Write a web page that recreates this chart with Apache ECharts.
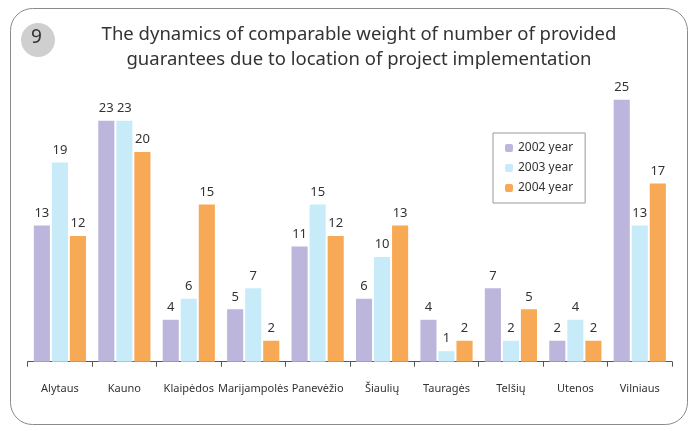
<!DOCTYPE html>
<html>
<head>
<meta charset="utf-8">
<script src="https://cdn.jsdelivr.net/npm/echarts@6/dist/echarts.min.js"></script>
<style>
  html, body { margin: 0; padding: 0; background: #fff; }
</style>
</head>
<body>
<div id="main" style="width: 690px;height:431px;"></div>
<script type="text/javascript">
  var regions = ['Alytaus', 'Kauno', 'Klaipėdos', 'Marijampolės', 'Panevėžio', 'Šiaulių', 'Tauragės', 'Telšių', 'Utenos', 'Vilniaus'];
  var y2002 = [13, 23, 4, 5, 11, 6, 4, 7, 2, 25];
  var y2003 = [19, 23, 6, 7, 15, 10, 1, 2, 4, 13];
  var y2004 = [12, 20, 15, 2, 12, 13, 2, 5, 2, 17];
  var seriesNames = ['2002 year', '2003 year', '2004 year'];
  var colors = ['#bcb6dc', '#c8ebfa', '#f8a955'];

  var myChart = echarts.init(document.getElementById('main'));
  var font = '"Noto Sans", sans-serif';

  // 数据标签
  var label = {
    show: true,
    position: 'top',
    distance: 6,
    color: '#333',
    fontSize: 13,
    fontFamily: font
  };

  var option = {
    animation: false,
    textStyle: { fontFamily: font },
    graphic: [
      {
        type: 'rect',
        shape: { x: 10.5, y: 8.5, width: 677, height: 416, r: 22 },
        style: { fill: 'none', stroke: '#8a8a8a', lineWidth: 1 }
      },
      {
        type: 'circle',
        shape: { cx: 38, cy: 40, r: 17 },
        style: { fill: '#cfcfcf' }
      },
      {
        type: 'text',
        left: 31,
        top: 28,
        style: { text: '9', fill: '#333', font: '19px ' + font }
      }
    ],
    title: {
      text: 'The dynamics of comparable weight of number of provided\nguarantees due to location of project implementation',
      left: 354,
      top: 17,
      textAlign: 'center',
      textStyle: {
        color: '#333',
        fontSize: 18.5,
        fontWeight: 'normal',
        lineHeight: 25,
        fontFamily: font
      }
    },
    legend: {
      data: seriesNames,
      orient: 'vertical',
      left: 493,
      top: 133,
      padding: [9, 12, 9, 12],
      borderColor: '#999',
      borderWidth: 1,
      itemWidth: 8,
      itemHeight: 8,
      itemGap: 8,
      textStyle: { color: '#333', fontSize: 12, fontFamily: font }
    },
    grid: {
      left: 27.7,
      right: 18,
      top: 99.7,
      bottom: 69.3
    },
    xAxis: {
      type: 'category',
      data: regions,
      axisLine: { lineStyle: { color: '#555' } },
      axisTick: { show: true, length: 5, lineStyle: { color: '#555' } },
      axisLabel: { color: '#333', fontSize: 11, margin: 22, interval: 0, fontFamily: font }
    },
    yAxis: {
      type: 'value',
      min: 0,
      max: 25,
      show: false
    },
    series: [
      { name: seriesNames[0], type: 'bar', data: y2002, itemStyle: { color: colors[0] }, barGap: '12%', barCategoryGap: '19%', label: label },
      { name: seriesNames[1], type: 'bar', data: y2003, itemStyle: { color: colors[1] }, label: label },
      { name: seriesNames[2], type: 'bar', data: y2004, itemStyle: { color: colors[2] }, label: label }
    ]
  };
  myChart.setOption(option);
</script>
</body>
</html>
